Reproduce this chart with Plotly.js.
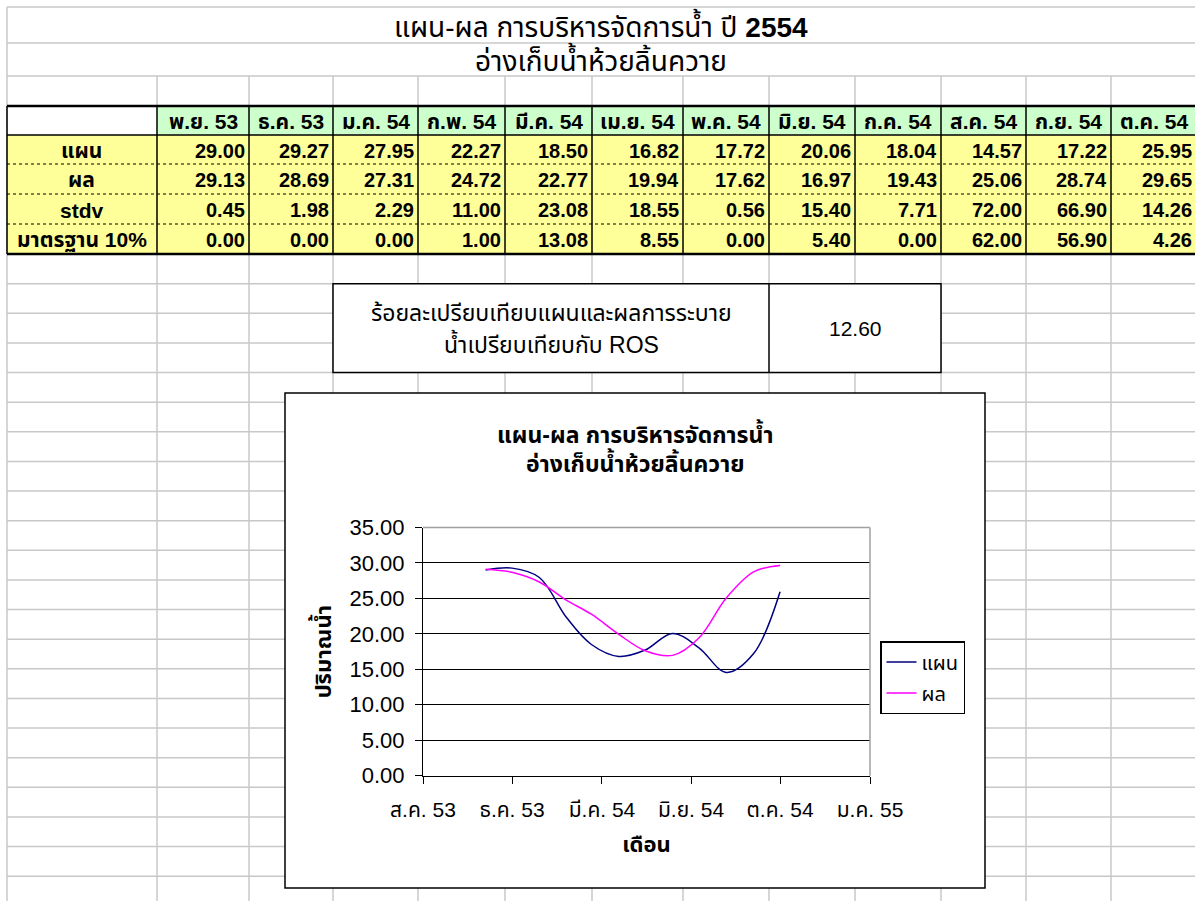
<!DOCTYPE html>
<html><head><meta charset="utf-8">
<script src="https://cdn.plot.ly/plotly-3.0.1.min.js"></script>
<style>html,body{margin:0;padding:0;background:#fff;overflow:hidden}</style>
</head><body><div id="chart" style="width:1195px;height:901px"></div>
<script>
// ---------------- data ----------------
const sheetTitle1 = 'แผน-ผล การบริหารจัดการน้ำ ปี <b>2554</b>';
const sheetTitle2 = 'อ่างเก็บน้ำห้วยลิ้นควาย';
const months = ['พ.ย. 53','ธ.ค. 53','ม.ค. 54','ก.พ. 54','มี.ค. 54','เม.ย. 54','พ.ค. 54','มิ.ย. 54','ก.ค. 54','ส.ค. 54','ก.ย. 54','ต.ค. 54'];
const monthDates = ['2010-11-01','2010-12-01','2011-01-01','2011-02-01','2011-03-01','2011-04-01','2011-05-01','2011-06-01','2011-07-01','2011-08-01','2011-09-01','2011-10-01'];
const plan   = [29.00,29.27,27.95,22.27,18.50,16.82,17.72,20.06,18.04,14.57,17.22,25.95];
const result = [29.13,28.69,27.31,24.72,22.77,19.94,17.62,16.97,19.43,25.06,28.74,29.65];
const stdv   = [0.45,1.98,2.29,11.00,23.08,18.55,0.56,15.40,7.71,72.00,66.90,14.26];
const std10  = [0.00,0.00,0.00,1.00,13.08,8.55,0.00,5.40,0.00,62.00,56.90,4.26];
const rowLabels = ['แผน','ผล','stdv','มาตรฐาน 10%'];
const rosText = ['ร้อยละเปรียบเทียบแผนและผลการระบาย','น้ำเปรียบเทียบกับ ROS'];
const rosValue = 12.60;
const chartTitle = ['แผน-ผล การบริหารจัดการน้ำ','อ่างเก็บน้ำห้วยลิ้นควาย'];
const seriesNames = ['แผน','ผล'];
const xTitle = 'เดือน';
const yTitle = 'ปริมาณน้ำ';
const xTickVals = ['2010-08-22','2010-12-01','2011-03-13','2011-06-22','2011-10-01','2012-01-11'];
const xTickText = ['ส.ค. 53','ธ.ค. 53','มี.ค. 54','มิ.ย. 54','ต.ค. 54','ม.ค. 55'];

// ---------------- sheet geometry (pixels) ----------------
const W = 1195, H = 901;
const colEdges = [7,157,249,333,418,505,592,683,769,855,941,1026,1111,1196];
const titleRowEdges = [7,43,76,106];
const tableRowEdges = [106,135,164,194,224,254];
const rowStep = 29.63;
const X = px => px / W;
const Y = py => 1 - py / H;
const FONT = "'Liberation Sans', Arial, 'Noto Sans Thai', Tahoma, sans-serif";
const GRID = '#c8c8c8';

const shapes = [];
function line(x0,y0,x1,y1,color,width,dash,layer){
  shapes.push({type:'line',xref:'paper',yref:'paper',x0:X(x0),y0:Y(y0),x1:X(x1),y1:Y(y1),
    line:{color:color,width:width,dash:dash||'solid'},layer:layer||'below'});
}
function rect(x0,y0,x1,y1,fill,lc,lw){
  shapes.push({type:'rect',xref:'paper',yref:'paper',x0:X(x0),y0:Y(y0),x1:X(x1),y1:Y(y1),
    fillcolor:fill,line:{color:lc||'rgba(0,0,0,0)',width:lw||0},layer:'below'});
}
const annotations = [];
function text(t,x,y,opts){
  opts = opts || {};
  annotations.push({text:t,xref:'paper',yref:'paper',x:X(x),y:Y(y),showarrow:false,
    xanchor:opts.xa||'center',yanchor:'middle',
    font:{family:FONT,size:opts.size||18,color:'#000',weight:opts.bold?'bold':'normal'}});
}

// fills
const tTop = tableRowEdges[0], tHead = tableRowEdges[1], tBot = tableRowEdges[tableRowEdges.length-1];
rect(colEdges[1],tTop,W,tHead,'#CCFFCC');
rect(colEdges[0],tHead,W,tBot,'#FFFF99');

// grey spreadsheet grid
titleRowEdges.slice(0,3).forEach(y => line(colEdges[0],y,W,y,GRID,1.5));
const lowerRows = [];
for (let y = tBot + rowStep; y < H; y += rowStep) lowerRows.push(y);
lowerRows.forEach(y => line(colEdges[0],y,W,y,GRID,1.5));
line(colEdges[0],titleRowEdges[0],colEdges[0],H,GRID,1.5);
colEdges.slice(1).forEach(x => {
  line(x,titleRowEdges[2],x,titleRowEdges[3],GRID,1.5);
  line(x,tBot,x,H,GRID,1.5);
});

// black table borders
colEdges.forEach(x => line(x,tTop,x,tBot,'#000',1.5));
line(colEdges[0],tTop,W,tTop,'#000',2.5);
line(colEdges[0],tHead,W,tHead,'#000',1.5);
tableRowEdges.slice(2,5).forEach(y => line(colEdges[0],y,W,y,'#000',1,'dot'));
line(colEdges[0],tBot,W,tBot,'#000',2.5);

// ROS box
const rosTop = tBot + rowStep, rosBot = tBot + 4*rowStep;
rect(colEdges[3],rosTop,colEdges[10],rosBot,'#fff','#000',1.5);
line(colEdges[8],rosTop,colEdges[8],rosBot,'#000',1.5);

// chart box
const cb = {l:285,t:393,r:985,b:888};
rect(cb.l,cb.t,cb.r,cb.b,'#fff','#000',1.5);

// plot area (pixels)
const pa = {l:423,r:870,t:527.5,b:775.7};
line(pa.l,pa.t,pa.r,pa.t,'#a0a0a0',1.5,'solid','above');
line(pa.r,pa.t,pa.r,pa.b,'#a0a0a0',1.5,'solid','above');

// sheet texts
text(sheetTitle1,601,25.5,{size:28});
text(sheetTitle2,601,59.5,{size:28});
months.forEach((m,i) => text(m,(colEdges[i+1]+colEdges[i+2])/2,(tTop+tHead)/2+1,{bold:true,size:21}));
const tableRows = [plan,result,stdv,std10];
tableRows.forEach((arr,r) => {
  const yc = (tableRowEdges[r+1]+tableRowEdges[r+2])/2 + 1;
  text(rowLabels[r],(colEdges[0]+colEdges[1])/2,yc,{bold:true,size:21});
  arr.forEach((v,i) => text(v.toFixed(2),colEdges[i+2]-2,yc,{bold:true,size:20,xa:'right'}));
});
text(rosText[0],(colEdges[3]+colEdges[8])/2,rosTop+29,{size:23});
text(rosText[1],(colEdges[3]+colEdges[8])/2,rosTop+60,{size:23});
text(rosValue.toFixed(2),(colEdges[8]+colEdges[10])/2,(rosTop+rosBot)/2,{size:21});
text(chartTitle[0],(cb.l+cb.r)/2,433,{size:23,bold:true});
text(chartTitle[1],(cb.l+cb.r)/2,462,{size:23,bold:true});

// ---------------- chart ----------------
const traces = [
  {x:monthDates,y:plan,name:seriesNames[0],type:'scatter',mode:'lines',legendgroup:'a',
   line:{color:'#000080',width:1.5,shape:'spline',smoothing:1}},
  {x:monthDates,y:result,name:seriesNames[1],type:'scatter',mode:'lines',legendgroup:'b',
   line:{color:'#FF00FF',width:1.5,shape:'spline',smoothing:1}}
];

const layout = {
  width:W,height:H,autosize:false,margin:{l:0,r:0,t:0,b:0},
  paper_bgcolor:'#fff',plot_bgcolor:'rgba(0,0,0,0)',
  font:{family:FONT,color:'#000',size:18},
  showlegend:true,
  legend:{x:X(880),y:Y(641),xanchor:'left',yanchor:'top',bgcolor:'#fff',bordercolor:'#000',
    borderwidth:1.5,font:{size:20},tracegroupgap:2,itemwidth:30},
  xaxis:{type:'date',domain:[X(pa.l),X(pa.r)],range:[xTickVals[0],xTickVals[xTickVals.length-1]],
    tickmode:'array',tickvals:xTickVals,ticktext:xTickText,showgrid:false,showline:true,
    linecolor:'#000',linewidth:1,ticks:'outside',ticklen:7,tickcolor:'#000',tickfont:{size:21},
    ticklabelstandoff:8,zeroline:false,fixedrange:true,
    title:{text:xTitle,font:{size:22,weight:'bold'},standoff:16}},
  yaxis:{domain:[Y(pa.b),Y(pa.t)],range:[0,35],tick0:0,dtick:5,tickformat:'.2f',
    showgrid:true,gridcolor:'#000',gridwidth:1,showline:true,linecolor:'#000',linewidth:1,
    ticks:'outside',ticklen:7,tickcolor:'#000',tickfont:{size:22},ticklabelstandoff:6,
    zeroline:false,fixedrange:true,
    title:{text:yTitle,font:{size:22,weight:'bold'},standoff:11}},
  shapes:shapes,annotations:annotations
};

Plotly.newPlot('chart',traces,layout,{displayModeBar:false,staticPlot:true});
</script></body></html>
